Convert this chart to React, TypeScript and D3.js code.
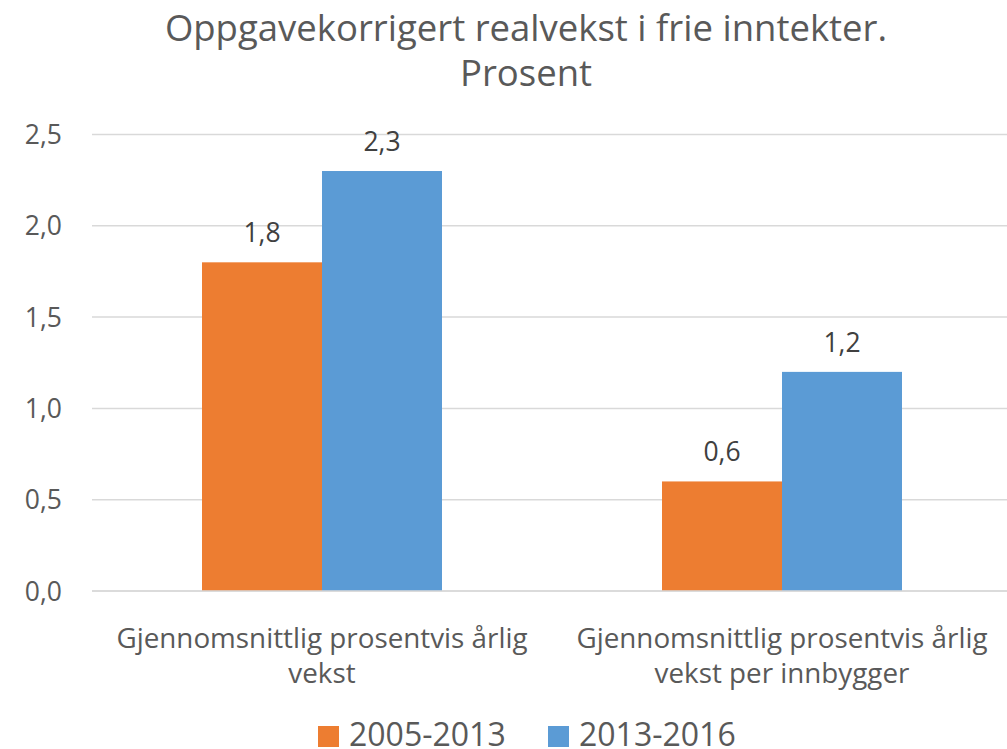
import React from 'react'
import * as d3 from 'd3'

const categories = [
  ['Gjennomsnittlig prosentvis årlig', 'vekst'],
  ['Gjennomsnittlig prosentvis årlig', 'vekst per innbygger']
]
const seriesNames = ['2005-2013', '2013-2016']
const seriesColors = ['#ED7D31', '#5B9BD5']
const values2005 = [1.8, 0.6]
const values2013 = [2.3, 1.2]
const yTicks = [0, 0.5, 1.0, 1.5, 2.0, 2.5]
const titleLines = ['Oppgavekorrigert realvekst i frie inntekter.', 'Prosent']

const W = 1007
const H = 749
const font = '"Open Sans", sans-serif'
const textColor = '#595959'

export default function App() {
  const keys = categories.map((c, i) => String(i))
  const x0 = d3.scaleBand().domain(keys).range([92, 1012]).paddingInner(220 / 460).paddingOuter(110 / 460)
  const x1 = d3.scaleBand().domain(seriesNames).range([0, x0.bandwidth()])
  const y = d3.scaleLinear().domain([0, 2.5]).range([591, 134.5])
  const fmt = (v: number) => d3.format('.1f')(v).replace('.', ',')
  const series = [values2005, values2013]
  const legendX = [318, 548]

  return (
    <svg width={W} height={H} style={{ position: 'absolute', left: 0, top: 0, background: '#fff' }} fontFamily={font}>
      {titleLines.map((t, i) => (
        <text key={t} x={526} y={41 + i * 45} textAnchor="middle" fontSize={36.5} fill={textColor}>{t}</text>
      ))}
      {yTicks.map(t => (
        <g key={t}>
          <line x1={92} x2={1007} y1={y(t)} y2={y(t)} stroke="#D9D9D9" strokeWidth={1.5} />
          <text x={62} y={y(t) + 9.5} textAnchor="end" fontSize={26.5} fill={textColor}>{fmt(t)}</text>
        </g>
      ))}
      {keys.map((k, ci) => (
        <g key={k} transform={`translate(${x0(k)},0)`}>
          {seriesNames.map((s, si) => {
            const v = series[si][ci]
            const bx = x1(s)!
            return (
              <g key={s}>
                <rect x={bx} y={y(v)} width={x1.bandwidth()} height={y(0) - y(v)} fill={seriesColors[si]} />
                <text x={bx + x1.bandwidth() / 2} y={y(v) - 20} textAnchor="middle" fontSize={26.5} fill="#404040">{fmt(v)}</text>
              </g>
            )
          })}
        </g>
      ))}
      <line x1={92} x2={1007} y1={y(0)} y2={y(0)} stroke="#D9D9D9" strokeWidth={1.5} />
      {categories.map((lines, ci) => (
        <text key={ci} textAnchor="middle" fontSize={27.8} fill={textColor}>
          {lines.map((l, li) => (
            <tspan key={li} x={x0(keys[ci])! + x0.bandwidth() / 2} y={648 + li * 35}>{l}</tspan>
          ))}
        </text>
      ))}
      {seriesNames.map((s, i) => (
        <g key={s}>
          <rect x={legendX[i]} y={726} width={21} height={21} fill={seriesColors[i]} />
          <text x={legendX[i] + 31} y={746} fontSize={32} fill={textColor}>{s}</text>
        </g>
      ))}
    </svg>
  )
}
